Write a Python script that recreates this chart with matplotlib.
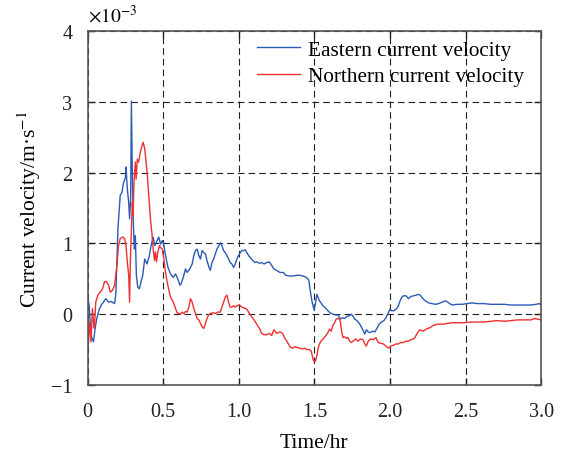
import matplotlib
matplotlib.use("Agg")
import matplotlib.pyplot as plt

plt.rcParams['font.family'] = ['Liberation Serif', 'DejaVu Serif']
plt.rcParams['mathtext.fontset'] = 'stix'
plt.rcParams['axes.unicode_minus'] = True

# velocities in units of 1e-3 m/s, time in hours
east_time = [0, 0.009, 0.022, 0.038, 0.049, 0.06, 0.075, 0.089, 0.104, 0.12,
             0.137, 0.155, 0.178, 0.186, 0.2, 0.215, 0.226, 0.237, 0.249, 0.253,
             0.262, 0.271, 0.277, 0.284, 0.289, 0.295, 0.302, 0.308, 0.315, 0.322,
             0.331, 0.342, 0.353, 0.364, 0.377, 0.393, 0.408, 0.419, 0.433, 0.444,
             0.455, 0.47,
             0.482, 0.493, 0.504, 0.515, 0.531, 0.548, 0.566, 0.581, 0.596, 0.61,
             0.618, 0.632, 0.647, 0.658, 0.675, 0.691, 0.702, 0.713, 0.724, 0.735,
             0.746, 0.757, 0.768, 0.779, 0.789, 0.803, 0.811, 0.822, 0.833, 0.844,
             0.855, 0.868, 0.877, 0.888, 0.899, 0.91, 0.921, 0.932, 0.943, 0.954,
             0.965, 0.976, 0.987, 0.998, 1.009, 1.02, 1.031, 1.042, 1.053, 1.064,
             1.075, 1.092, 1.107, 1.118, 1.136, 1.151, 1.167, 1.184, 1.202, 1.217,
             1.232, 1.25, 1.272, 1.294, 1.311, 1.333, 1.36, 1.382, 1.404, 1.425,
             1.447, 1.463, 1.474, 1.485, 1.498,
             1.507, 1.516, 1.524, 1.533, 1.544, 1.556, 1.573, 1.589, 1.604, 1.622,
             1.64, 1.656, 1.671, 1.684, 1.7, 1.716, 1.733, 1.744, 1.756, 1.767,
             1.782, 1.8, 1.818, 1.833, 1.844, 1.856, 1.867, 1.884, 1.9, 1.916,
             1.929, 1.944, 1.96, 1.973, 1.989, 2.0, 2.011, 2.027, 2.04, 2.056,
             2.067, 2.078, 2.089, 2.107, 2.122, 2.138, 2.156, 2.173, 2.189, 2.2,
             2.218, 2.233, 2.256, 2.278, 2.3, 2.322, 2.344, 2.367, 2.389, 2.411,
             2.444, 2.478, 2.511, 2.544, 2.578, 2.622, 2.667, 2.711, 2.756, 2.8,
             2.844, 2.889, 2.933, 2.967, 2.989, 3.0]
east_vel = [0.24, 0.13, -0.3, -0.39, -0.2, -0.06, 0.06, 0.13, 0.17, 0.22,
            0.17, 0.18, 0.15, 0.29, 1.21, 1.68, 1.72, 1.86, 1.93, 2.08,
            1.77, 1.58, 1.35, 1.63, 3.01, 2.0, 1.3, 0.92, 1.11, 0.55,
            0.38, 0.36, 0.46, 0.55, 0.78, 0.71, 0.83, 0.97, 1.09, 0.97,
            1.02, 1.09,
            0.99, 1.04, 0.97, 0.83, 0.66, 0.57, 0.52, 0.57, 0.5, 0.41,
            0.43, 0.52, 0.64, 0.59, 0.64, 0.71, 0.83, 0.9, 0.92, 0.83,
            0.78, 0.9, 0.87, 0.85, 0.76, 0.66, 0.62, 0.73, 0.78, 0.85,
            0.92, 0.97, 1.01, 0.97, 0.9, 0.87, 0.83, 0.78, 0.73, 0.71,
            0.66, 0.71, 0.78, 0.83, 0.87, 0.9, 0.9, 0.91, 0.87, 0.83,
            0.8, 0.76, 0.73, 0.74, 0.72, 0.73, 0.71, 0.73, 0.74, 0.69,
            0.64, 0.62, 0.59, 0.59, 0.55, 0.54, 0.54, 0.55, 0.55, 0.54,
            0.52, 0.48, 0.31, 0.17, 0.06,
            0.16, 0.28, 0.24, 0.19, 0.16, 0.12, 0.09, 0.05, 0.02, 0.0,
            -0.01, -0.01, -0.07, -0.05, -0.06, -0.03, -0.02, 0.0, -0.03, -0.07,
            -0.09, -0.14, -0.21, -0.28, -0.22, -0.25, -0.26, -0.24, -0.25, -0.19,
            -0.14, -0.11, -0.09, -0.05, 0.02, 0.07, 0.05, 0.05, 0.07, 0.12,
            0.19, 0.24, 0.26, 0.26, 0.22, 0.25, 0.26, 0.27, 0.28, 0.27,
            0.22, 0.19, 0.16, 0.15, 0.14, 0.15, 0.17, 0.19, 0.16, 0.13,
            0.14, 0.14, 0.15, 0.16, 0.15, 0.15, 0.14, 0.14, 0.14, 0.13,
            0.13, 0.13, 0.13, 0.14, 0.15, 0.13]

north_time = [0, 0.004, 0.013, 0.022, 0.031, 0.038, 0.044, 0.053, 0.067, 0.082,
              0.098, 0.111, 0.124, 0.138, 0.149, 0.164, 0.178, 0.193, 0.204, 0.215,
              0.231, 0.244, 0.253, 0.262, 0.271, 0.277, 0.282, 0.289, 0.295, 0.3,
              0.306, 0.315, 0.32, 0.328, 0.337, 0.348, 0.36, 0.366, 0.375, 0.382,
              0.393, 0.404, 0.415, 0.426, 0.433, 0.442, 0.448, 0.455, 0.464, 0.475,
              0.482, 0.493, 0.504, 0.515, 0.526, 0.537, 0.548, 0.559, 0.57, 0.581,
              0.592, 0.603, 0.614, 0.625, 0.636, 0.647, 0.658, 0.669, 0.68, 0.691,
              0.702, 0.713, 0.724, 0.735, 0.746, 0.757, 0.768, 0.779, 0.789, 0.8,
              0.811, 0.829, 0.844, 0.86, 0.877, 0.888, 0.899, 0.91, 0.921, 0.932,
              0.943, 0.954, 0.965, 0.976, 0.987, 1.004, 1.02, 1.035, 1.053, 1.07,
              1.086, 1.101, 1.118, 1.136, 1.151, 1.167, 1.184, 1.202, 1.217, 1.232,
              1.25, 1.272, 1.289, 1.305, 1.32, 1.338, 1.355, 1.371, 1.386, 1.404,
              1.421, 1.436, 1.452, 1.469, 1.48, 1.491, 1.5,
              1.507, 1.516, 1.524, 1.533, 1.544, 1.556, 1.573, 1.589, 1.6, 1.611,
              1.622, 1.633, 1.644, 1.656, 1.667, 1.673, 1.68, 1.689, 1.7, 1.711,
              1.722, 1.733, 1.744, 1.756, 1.773, 1.789, 1.804, 1.822, 1.833, 1.844,
              1.856, 1.871, 1.889, 1.907, 1.922, 1.938, 1.956, 1.973, 1.989, 2.004,
              2.022, 2.04, 2.056, 2.071, 2.089, 2.107, 2.122, 2.138, 2.156, 2.167,
              2.178, 2.189, 2.2, 2.218, 2.233, 2.249, 2.267, 2.284, 2.3, 2.316,
              2.333, 2.356, 2.378, 2.411, 2.444, 2.489, 2.533, 2.578, 2.622, 2.667,
              2.711, 2.756, 2.8, 2.844, 2.889, 2.933, 2.956, 2.978, 3.0]
north_vel = [0.0, -0.44, -0.11, -0.39, 0.08, -0.11, -0.2, 0.17, 0.27, 0.31,
             0.36, 0.46, 0.46, 0.41, 0.31, 0.34, 0.41, 0.69, 0.97, 1.07,
             1.09, 1.07, 0.97, 0.74, 0.55, 0.17, 0.74, 1.21, 1.58, 1.39,
             1.86, 2.15, 1.91, 2.19, 2.15, 2.29, 2.38, 2.43, 2.36, 2.24,
             2.0, 1.68, 1.35, 1.11, 0.92, 0.76, 0.88, 0.74, 0.88, 0.97,
             0.94, 0.92, 0.78, 0.59, 0.45, 0.34, 0.24, 0.2, 0.15, 0.08,
             0.02, 0.01, 0.0, 0.03, 0.01, 0.04, 0.03, 0.1, 0.22, 0.17,
             0.08, 0.01, -0.06, -0.08, -0.13, -0.18, -0.2, -0.13, -0.06, -0.01,
             0.01, 0.02, 0.01, 0.03, 0.03, 0.1, 0.17, 0.24, 0.27, 0.17,
             0.1, 0.1, 0.12, 0.1, 0.12, 0.13, 0.1, 0.09, 0.07, 0.01,
             -0.04, -0.08, -0.14, -0.2, -0.27, -0.29, -0.29, -0.27, -0.3, -0.22,
             -0.27, -0.25, -0.27, -0.34, -0.39, -0.46, -0.48, -0.46, -0.47, -0.48,
             -0.49, -0.48, -0.5, -0.5, -0.53, -0.64, -0.67,
             -0.66, -0.59, -0.49, -0.42, -0.38, -0.35, -0.31, -0.26, -0.21, -0.24,
             -0.16, -0.12, -0.07, -0.06, -0.07, -0.12, -0.24, -0.33, -0.32, -0.34,
             -0.33, -0.38, -0.4, -0.38, -0.35, -0.38, -0.35, -0.36, -0.42, -0.45,
             -0.38, -0.35, -0.36, -0.33, -0.4, -0.41, -0.42, -0.45, -0.48, -0.45,
             -0.44, -0.42, -0.42, -0.4, -0.4, -0.38, -0.38, -0.36, -0.35, -0.32,
             -0.28, -0.24, -0.22, -0.24, -0.22, -0.2, -0.19, -0.16, -0.15, -0.14,
             -0.14, -0.14, -0.13, -0.12, -0.12, -0.12, -0.11, -0.11, -0.11, -0.1,
             -0.09, -0.1, -0.09, -0.08, -0.08, -0.08, -0.06, -0.07, -0.08]

x_ticks = [0, 0.5, 1.0, 1.5, 2.0, 2.5, 3.0]
x_labels = ["0", "0.5", "1.0", "1.5", "2.0", "2.5", "3.0"]
y_ticks = [-1, 0, 1, 2, 3, 4]

fig = plt.figure(figsize=(5.66, 4.52), dpi=100)
ax = fig.add_axes([0.155, 0.146, 0.801, 0.783])

ax.plot(east_time, east_vel, color="#2a5bb5", lw=1.0, label="Eastern current velocity")
ax.plot(north_time, north_vel, color="#f03030", lw=1.0, label="Northern current velocity")

ax.set_xlim(0, 3.0)
ax.set_ylim(-1, 4)
ax.set_xticks(x_ticks)
ax.set_xticklabels(x_labels)
ax.set_yticks(y_ticks)
ax.grid(True, color="#222222", ls=(0, (6, 3.6)), lw=0.8)
ax.tick_params(direction="in", length=5, width=1, top=True, right=True,
               labelsize=14.5, colors="#222222")
ax.tick_params(axis="x", pad=12)
ax.tick_params(axis="y", pad=11)
for s in ax.spines.values():
    s.set_color("#555555")
    s.set_linewidth(1.2)

ax.set_xlabel("Time/hr", fontsize=15.5, labelpad=9)
ax.set_ylabel("Current velocity/m\u00b7s$^{-1}$", fontsize=15.5, labelpad=6)
ax.text(0.0, 1.015, "$\\times10^{-3}$", transform=ax.transAxes, fontsize=14,
        ha="left", va="bottom")

ax.legend(loc="upper left", bbox_to_anchor=(0.373, 0.975), frameon=False,
          fontsize=15.3, handlelength=2.05, handletextpad=0.35,
          labelspacing=0.3, borderaxespad=0, borderpad=0)

fig.savefig("out.png", dpi=100)
